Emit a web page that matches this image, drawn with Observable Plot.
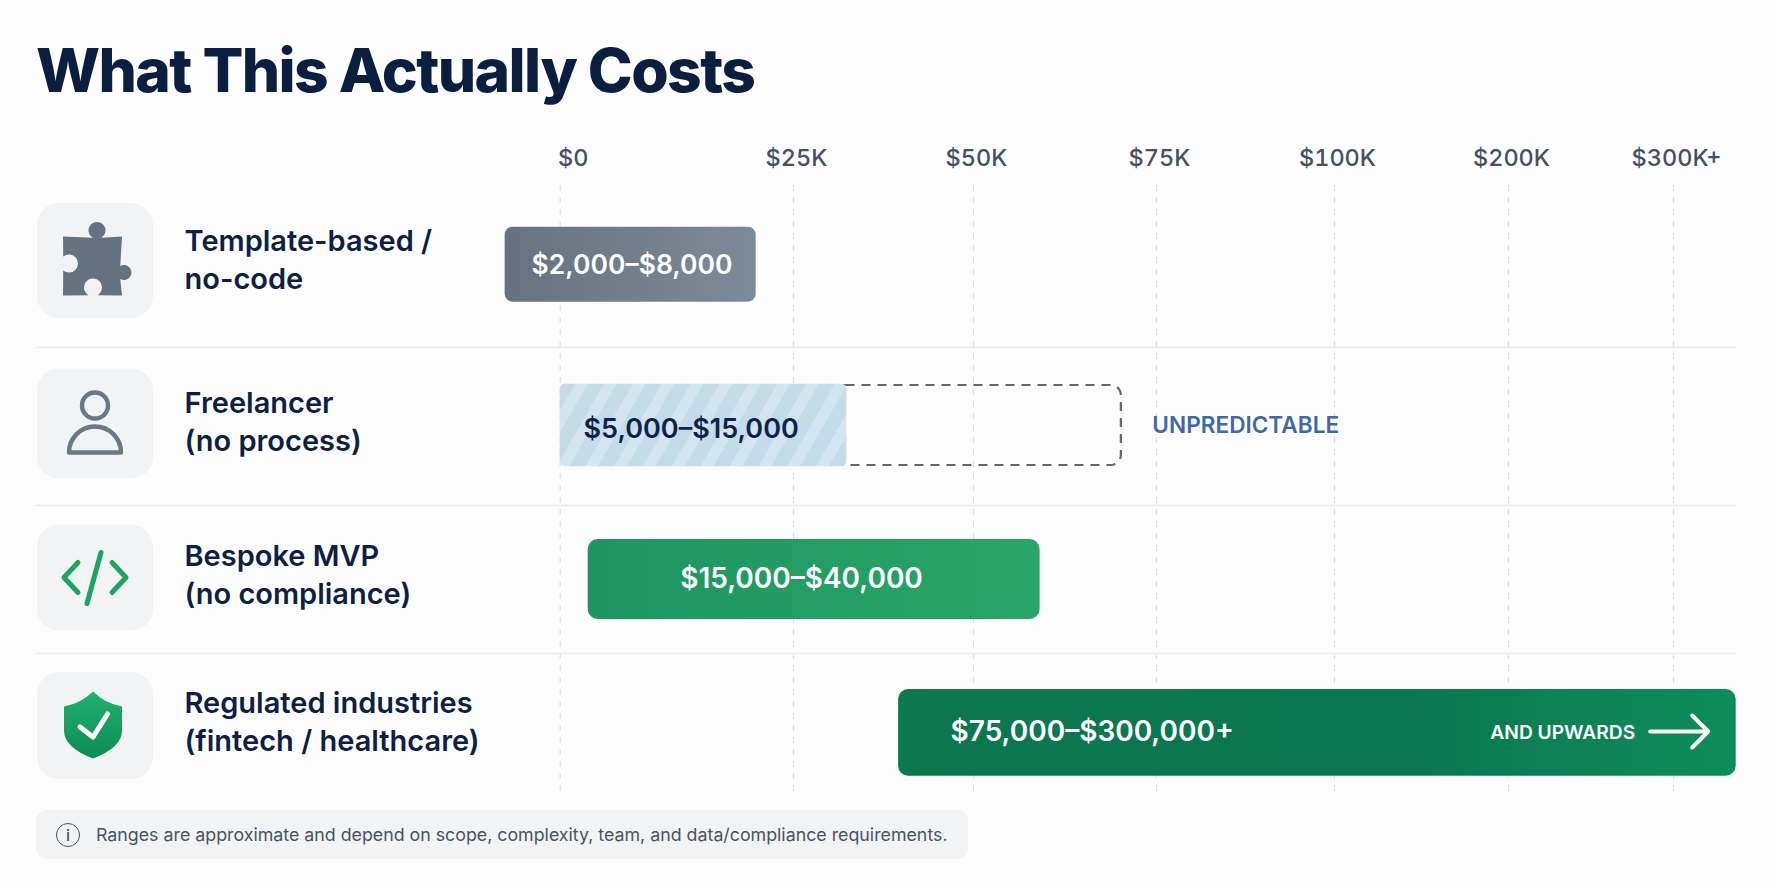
<!DOCTYPE html>
<html>
<head>
<meta charset="utf-8">
<script src="https://cdn.jsdelivr.net/npm/d3@7"></script>
<script src="https://cdn.jsdelivr.net/npm/@observablehq/plot@0.6"></script>
<style>
  html, body { margin: 0; padding: 0; background: #fdfdfe; overflow: hidden; }
  body { width: 1774px; height: 887px; font-family: Inter, "Noto Sans", sans-serif; }
  #title { height: 130px; box-sizing: border-box; margin: 0; padding: 30px 0 0 36px; font-size: 60.5px; line-height: 80px;
           font-weight: 800; color: #0a1f3f; letter-spacing: -1.6px; }
  #chart svg { display: block; }
  #note { position: absolute; left: 36px; top: 810px; width: 932px; height: 49px; border-radius: 11px; background: #f2f3f5; white-space: nowrap;
          display: flex; align-items: center; box-sizing: border-box; padding-left: 20px; color: #4a5362; font-size: 17.8px; }
  #note .i { width: 22px; height: 22px; border: 1.8px solid #4a5362; border-radius: 50%; margin-right: 16px; box-sizing: content-box;
             display: inline-flex; align-items: center; justify-content: center; font-size: 16px; font-weight: 500; flex: none; }
</style>
</head>
<body>
<h1 id="title">What This Actually Costs</h1>
<div id="chart"></div>
<div id="note"><span class="i">i</span><span>Ranges are approximate and depend on scope, complexity, team, and data/compliance requirements.</span></div>
<script>
// ---- data ----
const rows = [0, 1, 2, 3];
const rowLabels = ["Template-based /\nno-code", "Freelancer\n(no process)", "Bespoke MVP\n(no compliance)", "Regulated industries\n(fintech / healthcare)"];
const rangeLabels = ["$2,000–$8,000", "$5,000–$15,000", "$15,000–$40,000", "$75,000–$300,000+"];
const tickValues = [0, 25000, 50000, 75000, 100000, 200000, 300000];
const tickLabels = ["$0", "$25K", "$50K", "$75K", "$100K", "$200K", "$300K+"];
// Bar extents as they sit against the printed axis (the picture is not to scale with its labels).
const barStarts = [-5900, 0, 3000, 39600];
const barEnds = [21000, 32400, 59100, 338000];
const unpredictableEnd = [70200];
const separators = [0.534, 1.532, 2.514];

// ---- icons as custom symbols for Plot.dot ----
const sym = draw => ({draw});
const tile = (w, h, r = 22) => sym(c => {
  const x = w / 2, y = h / 2;
  c.moveTo(-x + r, -y); c.arcTo(x, -y, x, y, r); c.arcTo(x, y, -x, y, r); c.arcTo(-x, y, -x, -y, r); c.arcTo(-x, -y, x, -y, r); c.closePath();
});
const puzzle = sym(c => {
  const p = Math.PI;
  c.moveTo(-32, -24); c.arc(2, -30, 8.5, 2 * p / 3, 2 * p + p / 3, false);
  c.lineTo(27, -24); c.arc(29, 12, 7.5, 4 * p / 3, 2 * p + 2 * p / 3, false);
  c.lineTo(27, 35); c.arc(-2, 27, 9, p / 3, -4 * p / 3, true);
  c.lineTo(-32, 35); c.arc(-26, 3, 9, 130 * p / 180, -130 * p / 180, true);
  c.lineTo(-32, -24); c.closePath();
});
const person = sym(c => {
  c.moveTo(13, -18); c.arc(0, -18, 13, 0, 2 * Math.PI);
  c.moveTo(-26, 29); c.arc(0, 29, 26, Math.PI, 2 * Math.PI); c.closePath();
});
const codeIcon = sym(c => {
  c.moveTo(-17, -15); c.lineTo(-31, 0); c.lineTo(-17, 15);
  c.moveTo(17, -15); c.lineTo(31, 0); c.lineTo(17, 15);
  c.moveTo(6, -25); c.lineTo(-8, 26);
});
const shield = sym(c => {
  c.moveTo(-2, -34); c.quadraticCurveTo(10, -22, 27, -19); c.lineTo(27, 5); c.quadraticCurveTo(27, 22, -2, 33);
  c.quadraticCurveTo(-31, 22, -31, 5); c.lineTo(-31, -19); c.quadraticCurveTo(-14, -22, -2, -34); c.closePath();
});
const check = sym(c => { c.moveTo(-15, 1.5); c.lineTo(-2, 11.5); c.lineTo(12.5, -11.5); });
const arrow = sym(c => { c.moveTo(-29, 0); c.lineTo(29, 0); c.moveTo(13, -16); c.lineTo(29, 0); c.lineTo(13, 16); });

// ---- drawing options per row ----
const barStyle = [
  {fill: "url(#gTemplate)", top: -33.3, bottom: 41.7, rx: 8, color: "#ffffff", dx: 26.4, dy: 4.6, size: 26.5},
  {fill: "url(#hatch)", top: -39.2, bottom: 43.2, rx: 5, color: "#10224a", dx: 23.3, dy: 5.5, size: 27},
  {fill: "url(#gBespoke)", top: -38, bottom: 42, rx: 10, color: "#ffffff", dx: 92, dy: 2, size: 28},
  {fill: "url(#gRegulated)", top: -36, bottom: 50.7, rx: 10, color: "#ffffff", dx: 52, dy: 7, size: 28}
];
const rowLabelDy = [-2.5, -3.5, -4.5, -5.5];
const tileSize = [[116, 115], [116, 110], [116, 106], [116, 107]];
const tileDx = 58.5;

const defs = () => d3.create("svg:g").html(`<defs>
  <linearGradient id="gTemplate" x1="0" x2="1"><stop offset="0" stop-color="#66727f"/><stop offset="1" stop-color="#7c8b9a"/></linearGradient>
  <linearGradient id="gBespoke" x1="0" x2="1"><stop offset="0" stop-color="#1e9560"/><stop offset="1" stop-color="#29a667"/></linearGradient>
  <linearGradient id="gRegulated" x1="0" x2="1"><stop offset="0" stop-color="#0b7850"/><stop offset="0.6" stop-color="#0a7651"/><stop offset="1" stop-color="#0e8d5c"/></linearGradient>
  <linearGradient id="gShield" x1="0" y1="0" x2="0" y2="1"><stop offset="0" stop-color="#20b26e"/><stop offset="1" stop-color="#0f8a55"/></linearGradient>
  <pattern id="hatch" width="25" height="25" patternUnits="userSpaceOnUse" patternTransform="rotate(30)">
    <rect width="25" height="25" fill="#c4dbea"/><rect width="11" height="25" fill="#d2e5f1"/>
  </pattern></defs>`).node();

const plot = Plot.plot({
  width: 1774, height: 670,
  marginTop: 55, marginBottom: 7, marginLeft: 36, marginRight: 38,
  style: {fontFamily: "Inter, sans-serif", background: "transparent", overflow: "visible"},
  x: {type: "linear", domain: tickValues, range: [559.7, 793, 973, 1156, 1334, 1508, 1673], axis: null},
  y: {type: "linear", domain: rows, range: [130, 293, 447, 595], axis: null},
  marks: [
    defs,
    // grid and row separators
    Plot.ruleX(tickValues, {stroke: "#dadde1", strokeWidth: 1.1, strokeDasharray: "6,6"}),
    Plot.ruleY(separators, {stroke: "#e9ecef", strokeWidth: 1.6}),
    // axis labels
    Plot.axisX(tickValues.slice(1), {anchor: "top", tickSize: 0, tickPadding: 19.5, dx: 3, fontSize: 23.5, fontWeight: 500, fill: "#465064",
      tickFormat: v => tickLabels[tickValues.indexOf(v)], label: null}),
    Plot.axisX(tickValues.slice(0, 1), {anchor: "top", tickSize: 0, tickPadding: 19.5, dx: 13, fontSize: 23.5, fontWeight: 500, fill: "#465064",
      tickFormat: v => tickLabels[tickValues.indexOf(v)], label: null}),
    // icon tiles
    ...rows.map(i => Plot.dot([i], {y: d => d, frameAnchor: "left", dx: tileDx, symbol: tile(...tileSize[i]), fill: "#f2f3f5", stroke: "none"})),
    Plot.dot([0], {y: d => d, frameAnchor: "left", dx: tileDx, symbol: puzzle, fill: "#647282", stroke: "none"}),
    Plot.dot([1], {y: d => d, frameAnchor: "left", dx: tileDx, symbol: person, fill: "none", stroke: "#6b7787", strokeWidth: 4.4, strokeLinejoin: "round"}),
    Plot.dot([2], {y: d => d, frameAnchor: "left", dx: tileDx, symbol: codeIcon, fill: "none", stroke: "#1ea362", strokeWidth: 5, strokeLinecap: "round", strokeLinejoin: "round"}),
    Plot.dot([3], {y: d => d, frameAnchor: "left", dx: tileDx, symbol: shield, fill: "url(#gShield)", stroke: "none"}),
    Plot.dot([3], {y: d => d, frameAnchor: "left", dx: tileDx, symbol: check, fill: "none", stroke: "#ffffff", strokeWidth: 5, strokeLinecap: "round", strokeLinejoin: "round"}),
    // row labels
    ...rows.map(i => Plot.text([i], {y: d => d, frameAnchor: "left", dx: 148, dy: rowLabelDy[i], text: d => rowLabels[d], textAnchor: "start", fontSize: 29, fontWeight: 600, lineHeight: 1.32, fill: "#0d1f45"})),
    // unpredictable extension: begins just inside the hatched bar, which hides its left side
    Plot.rect([1], {x1: i => barEnds[i] - 1500, x2: () => unpredictableEnd[0], y1: d => d, y2: d => d, insetTop: -38, insetBottom: -42, rx: 10, fill: "none", stroke: "#5c6675", strokeWidth: 2.2, strokeDasharray: "9,7"}),
    // bars and their labels
    ...rows.map(i => Plot.rect([i], {x1: d => barStarts[d], x2: d => barEnds[d], y1: d => d, y2: d => d, insetTop: barStyle[i].top, insetBottom: -barStyle[i].bottom, rx: barStyle[i].rx, fill: barStyle[i].fill})),
    ...rows.map(i => Plot.text([i], {x: d => barStarts[d], y: d => d, dx: barStyle[i].dx, dy: barStyle[i].dy, text: d => rangeLabels[d], textAnchor: "start", fontSize: barStyle[i].size, fontWeight: 600, fill: barStyle[i].color})),
    Plot.text([1], {x: () => unpredictableEnd[0], y: d => d, dx: 31, dy: 2, text: () => "UNPREDICTABLE", textAnchor: "start", fontSize: 22.6, fontWeight: 600, fill: "#3f6aa0"}),
    Plot.text([3], {x: d => barEnds[d], y: d => d, dx: -101, dy: 7, text: () => "AND UPWARDS", textAnchor: "end", fontSize: 19.2, fontWeight: 600, fill: "#ffffff"}),
    Plot.dot([3], {x: d => barEnds[d], y: d => d, dx: -57, dy: 6, symbol: arrow, fill: "none", stroke: "#ffffff", strokeWidth: 4, strokeLinecap: "round", strokeLinejoin: "round"})
  ]
});
document.getElementById("chart").appendChild(plot);
</script>
</body>
</html>
